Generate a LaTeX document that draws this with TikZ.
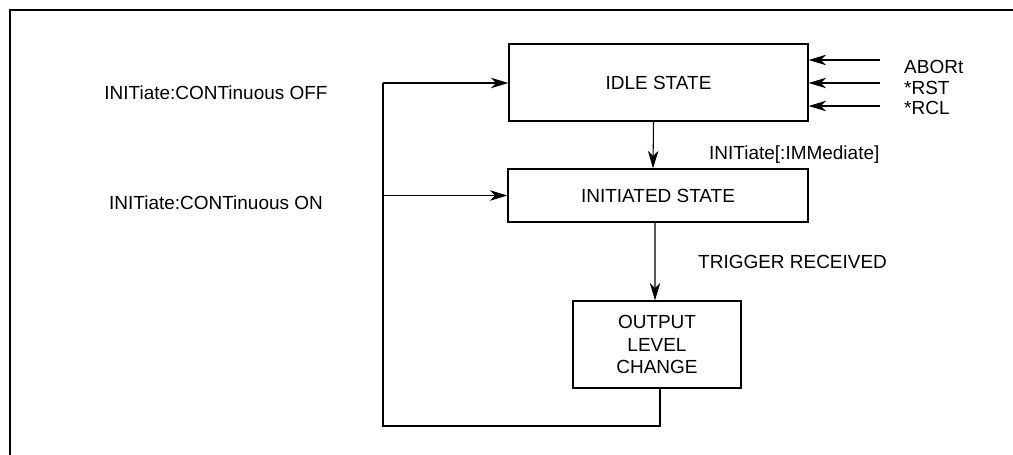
\documentclass[tikz,border=0pt]{standalone}
\usepackage{fontspec}
\setmainfont{Liberation Sans}
\usepackage{tikz}
\usetikzlibrary{arrows.meta, positioning}
\tikzset{
	statebox/.style={draw=black, line width=0.75pt, rectangle, align=center, inner sep=0pt},
	flow/.style={draw=black, line width=0.6pt, -{Stealth[length=10pt, width=6pt, inset=3pt]}},
	loopline/.style={draw=black, line width=0.6pt}
}

\begin{document}
\begin{tikzpicture}[x=0.02cm, y=-0.02cm, font=\fontsize{10.8}{12.6}\selectfont]
		\useasboundingbox (0, 0) rectangle (1013, 455);

		% frame
		\draw[line width=1.1pt] (10, 455) -- (10, 10) -- (1013, 10);

		% states
		\node[statebox, minimum width=5.98cm, minimum height=1.54cm] (idle) at (658.5, 82.5) {IDLE STATE};
		\node[statebox, minimum width=6cm, minimum height=1.06cm] (initiated) at (658, 195.5) {INITIATED STATE};
		\node[statebox, minimum width=3.36cm, minimum height=1.74cm] (output) at (657, 344.5) {OUTPUT\\LEVEL\\CHANGE};

		% commands into idle state
		\coordinate (abort) at (880, 60);
		\coordinate (rst) at (880, 83);
		\coordinate (rcl) at (880, 106);
		\draw[flow] (abort) -- (abort -| idle.east);
		\draw[flow] (rst) -- (rst -| idle.east);
		\draw[flow] (rcl) -- (rcl -| idle.east);
		\node[anchor=west] (abortlbl) at (898, 67) {ABORt};
		\node[anchor=west] (rstlbl) at (898, 88) {*RST};
		\node[anchor=west] (rcllbl) at (898, 108) {*RCL};

		% main sequence
		\draw[flow] ([xshift=-0.1cm]idle.south) -- ([xshift=-0.1cm]initiated.north);
		\node[anchor=west] (immlbl) at (703, 155) {INITiate[:IMMediate]};
		\draw[flow] ([xshift=-0.06cm]initiated.south) -- ([xshift=-0.04cm]output.north);
		\node[anchor=west] (triglbl) at (692, 262) {TRIGGER RECEIVED};

		% continuous loop
		\coordinate (loopdown) at (660, 426);
		\coordinate (loopleft) at (383, 426);
		\coordinate (looptop) at (383, 83);
		\draw[loopline] (output.south -| loopdown) -- (loopdown) -- (loopleft) -- (looptop);
		\draw[flow] (looptop) -- (idle.west |- looptop);
		\draw[flow] (looptop |- initiated.west) -- (initiated.west);
		\node (offlbl) at (216, 93) {INITiate:CONTinuous OFF};
		\node (onlbl) at (216, 203) {INITiate:CONTinuous ON};

	\end{tikzpicture}
\end{document}
